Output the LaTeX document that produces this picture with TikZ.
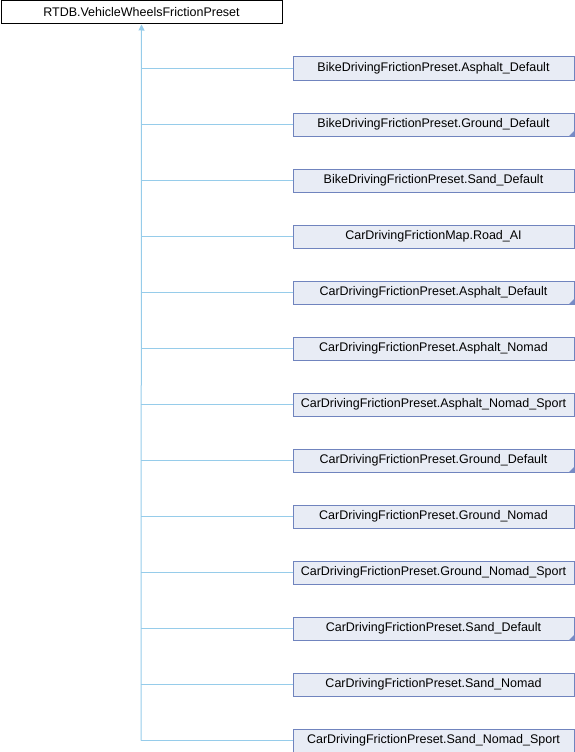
\documentclass[tikz,border=0pt]{standalone}
\usepackage{fontspec}
\setmainfont{Liberation Sans}
\usetikzlibrary{arrows.meta,calc}
\definecolor{boxfill}{RGB}{232,236,245}
\definecolor{boxdraw}{RGB}{112,132,190}
\definecolor{linkc}{RGB}{150,204,234}
\definecolor{markc}{RGB}{120,140,198}
\tikzset{
  basebox/.style={draw=black, fill=white, line width=1pt, inner sep=0pt, anchor=north west,
    minimum width=281pt, minimum height=23pt, font=\fontsize{12.5pt}{14pt}\selectfont},
  childbox/.style={draw=boxdraw, fill=boxfill, line width=1pt, inner sep=0pt, anchor=north west,
    minimum width=281pt, minimum height=23pt, font=\fontsize{12.5pt}{14pt}\selectfont},
  linkline/.style={draw=linkc, line width=1pt},
  cornermark/.style={fill=markc, draw=none}
}
\begin{document}
\begin{tikzpicture}[x=1pt,y=-1pt]
\useasboundingbox (0,0) rectangle (574,752);
\node[basebox] (top) at (0.5,0.5) {RTDB.VehicleWheelsFrictionPreset};
\foreach \k/\t/\m in {
  0/BikeDrivingFrictionPreset.Asphalt\_Default/0,
  1/BikeDrivingFrictionPreset.Ground\_Default/1,
  2/BikeDrivingFrictionPreset.Sand\_Default/0,
  3/CarDrivingFrictionMap.Road\_AI/0,
  4/CarDrivingFrictionPreset.Asphalt\_Default/1,
  5/CarDrivingFrictionPreset.Asphalt\_Nomad/0,
  6/CarDrivingFrictionPreset.Asphalt\_Nomad\_Sport/0,
  7/CarDrivingFrictionPreset.Ground\_Default/1,
  8/CarDrivingFrictionPreset.Ground\_Nomad/0,
  9/CarDrivingFrictionPreset.Ground\_Nomad\_Sport/0,
  10/CarDrivingFrictionPreset.Sand\_Default/1,
  11/CarDrivingFrictionPreset.Sand\_Nomad/0,
  12/CarDrivingFrictionPreset.Sand\_Nomad\_Sport/0} {
  \node[childbox] (c\k) at (292.5,56.5+56*\k) {\t};
  \coordinate (j\k) at (141,68.5+56*\k);
  \draw[linkline] (j\k) -- (c\k.west);
  \ifnum\m=1
    \fill[cornermark] ($(c\k.south east)+(0,-6)$) -- (c\k.south east) -- ($(c\k.south east)+(-6,0)$) -- cycle;
  \fi
}
\draw[linkline, -{Triangle[width=6pt,length=6pt]}] (j12) -- (top.south);
\end{tikzpicture}
\end{document}
